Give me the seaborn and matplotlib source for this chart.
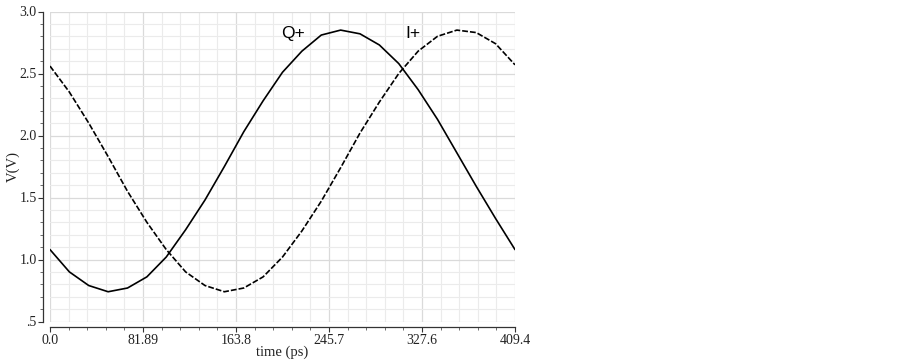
import matplotlib
matplotlib.use("Agg")
import matplotlib.pyplot as plt
import seaborn as sns
import numpy as np
import pandas as pd
from matplotlib.ticker import MultipleLocator, FixedLocator

# ---- data ----
time_ps = [0.0, 17.06, 34.12, 51.18, 68.23, 85.29, 102.35, 119.41, 136.47,
           153.53, 170.58, 187.64, 204.70, 221.76, 238.82, 255.88, 272.93,
           289.99, 307.05, 324.11, 341.17, 358.23, 375.28, 392.34, 409.4]
q_plus = [1.08, 0.90, 0.79, 0.74, 0.77, 0.86, 1.02, 1.24, 1.48, 1.75, 2.03,
          2.28, 2.51, 2.68, 2.81, 2.85, 2.82, 2.73, 2.58, 2.37, 2.13, 1.86,
          1.59, 1.33, 1.08]
i_plus = [2.56, 2.35, 2.10, 1.83, 1.55, 1.30, 1.08, 0.90, 0.79, 0.74, 0.77,
          0.86, 1.02, 1.23, 1.47, 1.74, 2.02, 2.27, 2.50, 2.68, 2.80, 2.85,
          2.83, 2.74, 2.57]
x_ticks = [0.0, 81.88, 163.76, 245.64, 327.52, 409.4]
x_ticklabels = ["0.0", "81.89", "163.8", "245.7", "327.6", "409.4"]
y_ticks = [0.5, 1.0, 1.5, 2.0, 2.5, 3.0]
y_ticklabels = [".5", "1.0", "1.5", "2.0", "2.5", "3.0"]

sns.set_theme(style="white")
plt.rcParams['font.family'] = ['Liberation Serif', 'DejaVu Serif']

W, H = 902, 361
fig = plt.figure(figsize=(W / 100, H / 100), dpi=100)
ax = fig.add_axes([50 / W, (H - 321.5) / H, 465 / W, 310 / H])

df_q = pd.DataFrame({"time": time_ps, "V": q_plus})
df_i = pd.DataFrame({"time": time_ps, "V": i_plus})
sns.lineplot(data=df_q, x="time", y="V", ax=ax, color="black", lw=1.2, zorder=3)
sns.lineplot(data=df_i, x="time", y="V", ax=ax, color="black", lw=1.2,
             dashes=False, zorder=3)
ax.lines[-1].set_dashes([3.5, 1.2])

ax.set_xlim(0, 409.4)
ax.set_ylim(0.5, 3.0)

ax.xaxis.set_major_locator(FixedLocator(x_ticks))
ax.xaxis.set_minor_locator(MultipleLocator(409.4 / 25))
ax.yaxis.set_major_locator(FixedLocator(y_ticks))
ax.yaxis.set_minor_locator(MultipleLocator(0.1))
ax.set_xticklabels(x_ticklabels)
ax.set_yticklabels(y_ticklabels)

ax.grid(which="major", color="#dadada", lw=0.9, zorder=0)
ax.grid(which="minor", color="#ebebeb", lw=0.8, zorder=0)
ax.set_axisbelow(True)

for s in ["top", "right"]:
    ax.spines[s].set_visible(False)
ax.spines["left"].set_position(("outward", 5))
ax.spines["bottom"].set_position(("outward", 4))
for s in ["left", "bottom"]:
    ax.spines[s].set_color("#333333")
    ax.spines[s].set_linewidth(0.9)

ax.tick_params(which="major", direction="out", length=3.5, width=0.8,
               color="#333333", labelsize=10, pad=1.2, left=True, bottom=True,
               labelcolor="#222222")
ax.tick_params(which="minor", direction="out", length=2.2, width=0.6,
               color="#555555", left=True, bottom=True)

ax.set_xlabel("time (ps)", fontsize=10.5, labelpad=-1, color="#222222")
ax.set_ylabel("V(V)", fontsize=10.5, color="#222222")
ax.yaxis.set_label_coords((20 - 50) / 465, 0.5)

ax.text(214.2, 2.82, "Q+", family="Liberation Sans", fontsize=12.5,
        ha="center", va="center", color="black")
ax.text(319.2, 2.82, "I+", family="Liberation Sans", fontsize=12.5,
        ha="center", va="center", color="black")

fig.savefig("out.png", dpi=100)
